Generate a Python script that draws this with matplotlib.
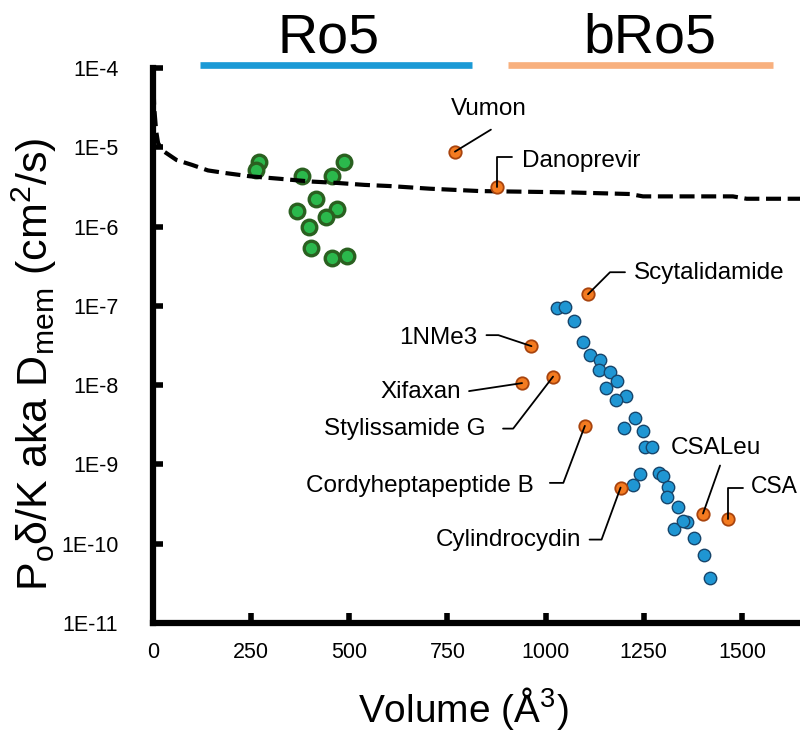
import matplotlib
matplotlib.use('Agg')
import matplotlib.pyplot as plt

# Ro5 compounds (green)
ro5_volume = [270, 262, 379, 487, 455, 414, 366, 468, 440, 398, 402, 457, 493]
ro5_dmem = [6.5e-6, 5.2e-6, 4.3e-6, 6.5e-6, 4.3e-6, 2.2e-6, 1.55e-6, 1.65e-6,
            1.3e-6, 1.0e-6, 5.3e-7, 4.05e-7, 4.2e-7]

# cyclic peptides (blue)
pep_volume = [1028, 1049, 1072, 1096, 1113, 1138, 1136, 1164, 1181, 1154,
              1204, 1179, 1227, 1199, 1247, 1253, 1270, 1240, 1222, 1289,
              1298, 1312, 1308, 1338, 1359, 1327, 1349, 1378, 1403, 1420]
pep_dmem = [9.3e-8, 9.8e-8, 6.5e-8, 3.5e-8, 2.4e-8, 2.1e-8, 1.56e-8, 1.48e-8,
            1.14e-8, 9.1e-9, 7.3e-9, 6.4e-9, 3.8e-9, 2.9e-9, 2.67e-9, 1.68e-9,
            1.68e-9, 7.6e-10, 5.5e-10, 7.7e-10, 7.2e-10, 5.2e-10, 3.9e-10,
            2.9e-10, 1.9e-10, 1.52e-10, 1.95e-10, 1.17e-10, 7.1e-11, 3.7e-11]

# named bRo5 compounds (orange)
named_labels = ['Vumon', 'Danoprevir', 'Scytalidamide', '1NMe3', 'Xifaxan',
                'Stylissamide G', 'Cordyheptapeptide B', 'Cylindrocydin',
                'CSALeu', 'CSA']
named_volume = [769, 875, 1108, 964, 940, 1019, 1100, 1191, 1401, 1465]
named_dmem = [8.8e-6, 3.15e-6, 1.4e-7, 3.1e-8, 1.06e-8, 1.28e-8, 3.06e-9,
              5.1e-10, 2.4e-10, 2.04e-10]

# dashed curve
curve_volume = [0, 3, 8, 13, 18, 30, 60, 99, 140, 188, 247, 323, 400, 468,
                539, 603, 705, 833, 1053, 1215, 1248, 1477, 1512, 1648]
curve_dmem = [1e-4, 3.2e-5, 1.6e-5, 1.13e-5, 1.02e-5, 8.7e-6, 6.9e-6, 6.0e-6,
              5.1e-6, 4.7e-6, 4.3e-6, 4.0e-6, 3.7e-6, 3.55e-6, 3.35e-6,
              3.24e-6, 3.0e-6, 2.8e-6, 2.7e-6, 2.57e-6, 2.4e-6, 2.4e-6,
              2.24e-6, 2.24e-6]

ro5_range = [120, 812]
bro5_range = [904, 1579]

xtick_values = [0, 250, 500, 750, 1000, 1250, 1500]
ytick_values = [1e-4, 1e-5, 1e-6, 1e-7, 1e-8, 1e-9, 1e-10, 1e-11]
ytick_labels = ['1E-4', '1E-5', '1E-6', '1E-7', '1E-8', '1E-9', '1E-10', '1E-11']

# leader line start (pixels from point), angle of second leg (None = straight),
# text offset (pixels from point), text alignment, font size
label_style = {
    'Vumon': ((36, 22), None, (34, 43), 'center', 17.5),
    'Danoprevir': ((15, 30), 90, (25, 26), 'left', 17.5),
    'Scytalidamide': ((37, 22), 45, (46, 21), 'left', 17.5),
    '1NMe3': ((-45, 11), 161.6, (-54, 8), 'right', 17.5),
    'Xifaxan': ((-53, -8), None, (-61, -9), 'right', 17.5),
    'Stylissamide G': ((-50, -52), 52.5, (-67, -52), 'right', 17.5),
    'Cordyheptapeptide B': ((-35, -57), 69.3, (-51, -60), 'right', 17.5),
    'Cylindrocydin': ((-31, -52), 69.9, (-39, -52), 'right', 17.5),
    'CSALeu': ((17, 48), None, (13, 66), 'center', 17.5),
    'CSA': ((15, 31), 90, (23, 33), 'left', 16.5),
}

plt.rcParams['font.family'] = ['Liberation Sans', 'DejaVu Sans']
plt.rcParams['mathtext.default'] = 'regular'

fig = plt.figure(figsize=(8, 7.33), dpi=100)
ax = fig.add_axes([0.19125, 0.1501, 0.80875, 0.7572])

ax.scatter(pep_volume, pep_dmem, s=80, color='#1F96D3', edgecolor='#17456B',
           linewidth=1.0, zorder=3)
ax.scatter(ro5_volume, ro5_dmem, s=110, color='#2BB84C', edgecolor='#2A6020',
           linewidth=2.4, zorder=3)
ax.plot(curve_volume, curve_dmem, color='black', lw=3.0, dashes=(3.6, 1.6),
        zorder=4, clip_on=False)
ax.scatter(named_volume, named_dmem, s=80, color='#F47B20', edgecolor='#A8440E',
           linewidth=1.3, zorder=5)

for name, v, d in zip(named_labels, named_volume, named_dmem):
    start, angle, toff, ha, size = label_style[name]
    if angle is None:
        conn = 'arc3,rad=0'
    else:
        conn = f'angle,angleA=0,angleB={angle},rad=0'
    ax.annotate('', xy=(v, d), xytext=start, textcoords='offset pixels',
                arrowprops=dict(arrowstyle='-', connectionstyle=conn, color='black',
                                lw=1.3, shrinkA=0, shrinkB=0), zorder=6)
    ax.annotate(name, xy=(v, d), xytext=toff, textcoords='offset pixels',
                ha=ha, va='center', fontsize=size, zorder=6)

# Ro5 / bRo5 bars above the plot
ax.plot(ro5_range, [1.09e-4, 1.09e-4], color='#1B9AD6', lw=4.8,
        solid_capstyle='butt', clip_on=False)
ax.plot(bro5_range, [1.09e-4, 1.09e-4], color='#F8B07E', lw=4.8,
        solid_capstyle='butt', clip_on=False)
fig.text(0.411, 0.929, 'Ro5', fontsize=40, ha='center', va='baseline')
fig.text(0.8125, 0.929, 'bRo5', fontsize=40, ha='center', va='baseline')

ax.set_yscale('log')
ax.set_xlim(0, 1648)
ax.set_ylim(1e-11, 1e-4)
ax.set_xticks(xtick_values)
ax.set_yticks(ytick_values)
ax.set_yticklabels(ytick_labels)
ax.minorticks_off()

for side in ['top', 'right']:
    ax.spines[side].set_visible(False)
for side in ['left', 'bottom']:
    ax.spines[side].set_linewidth(4.5)
    ax.spines[side].set_capstyle('projecting')
ax.tick_params(axis='both', direction='in', length=7, width=4, labelsize=15.5)
ax.tick_params(axis='y', pad=25)
ax.tick_params(axis='x', pad=14)

fig.text(0.579, 0.034, 'Volume (Å$^{3}$)', fontsize=28, ha='center', va='center')
fig.text(0.043, 0.503, 'P$_{o}$δ/K aka D$_{mem}$ (cm$^{2}$/s)', fontsize=31,
         rotation=90, ha='center', va='center')

fig.savefig('out.png', dpi=100)
